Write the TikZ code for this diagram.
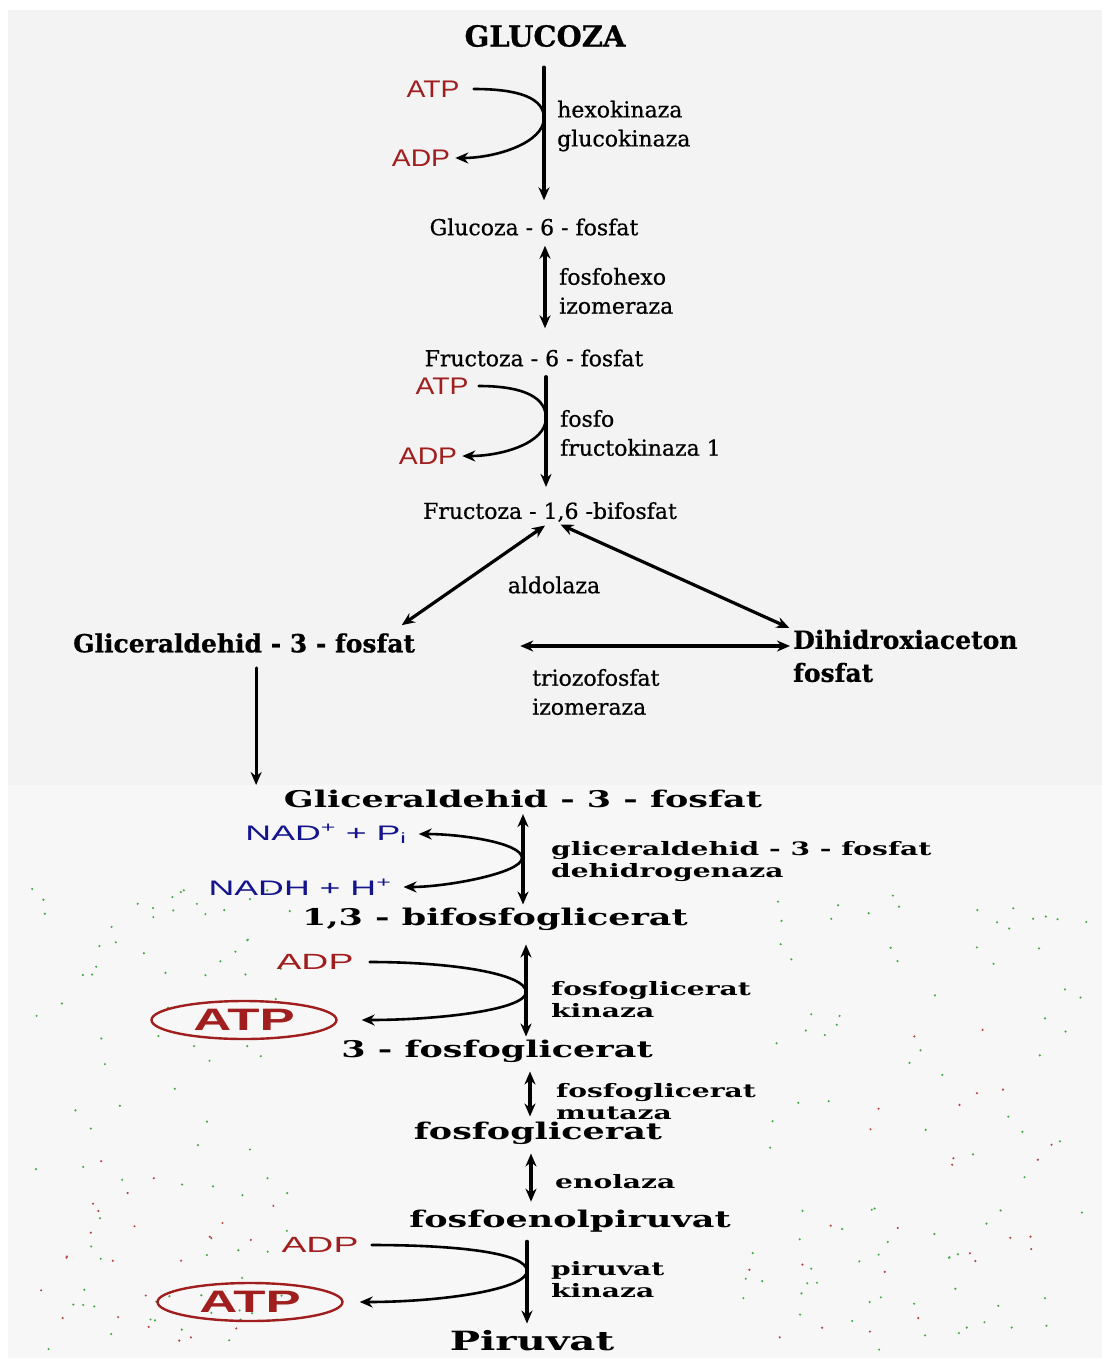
\documentclass[tikz,border=0pt]{standalone}
\usepackage{fontspec}
\usetikzlibrary{arrows.meta,shapes.geometric}
\newfontfamily\serf{DejaVu Serif}[FakeBold=0.7]
\newfontfamily\wserf{DejaVu Serif}[FakeStretch=1.52]
\newfontfamily\sanf{Liberation Sans}[FakeStretch=1.18]
\newfontfamily\wsanf{Liberation Sans}[FakeStretch=1.7]
\definecolor{topbg}{RGB}{243,243,243}
\definecolor{botbg}{RGB}{247,247,247}
\definecolor{atpred}{RGB}{160,30,30}
\definecolor{nadblue}{RGB}{20,20,140}
\definecolor{dotgreen}{RGB}{70,170,70}
\definecolor{dotred}{RGB}{180,70,70}
\begin{document}
\begin{tikzpicture}[x=1pt,y=-1pt,line join=round,line cap=round,>={Stealth[length=13pt,width=11pt]}]
	\tikzset{every node/.style={inner sep=0pt},
		molt/.style={font=\serf\fontsize{22}{29}\selectfont},
		molb/.style={font=\serf\bfseries\fontsize{25}{33}\selectfont,align=left},
		enzt/.style={font=\serf\fontsize{22}{29}\selectfont,align=left,anchor=west},
		cof/.style={text=atpred,font=\sanf\fontsize{24}{28}\selectfont},
		molw/.style={font=\wserf\bfseries\fontsize{23}{26}\selectfont},
		enzw/.style={font=\wserf\bfseries\fontsize{18.5}{22}\selectfont,align=left,anchor=west},
		cofw/.style={text=atpred,font=\wsanf\fontsize{22}{26}\selectfont},
		nadw/.style={text=nadblue,font=\wsanf\fontsize{21}{26}\selectfont},
		atpoval/.style={ellipse,draw=atpred,line width=2.4pt,minimum width=185pt,minimum height=38pt,
			text=atpred,font=\wsanf\bfseries\fontsize{31}{32}\selectfont},
		rxn/.style={line width=3.2pt},
		side/.style={line width=2.6pt}}
	\useasboundingbox (0,0) rectangle (1102,1358);
	% background
	\fill[white] (0,0) rectangle (1102,1358);
	\fill[topbg] (8,10) rectangle (1102,785);
	\fill[botbg] (8,785) rectangle (1102,1358);
	\pgfmathsetseed{17}
	\foreach \i in {1,...,85}{
		\pgfmathsetmacro\px{30+260*rnd}
		\pgfmathsetmacro\py{880+470*rnd}
		\pgfmathsetmacro\qx{740+350*rnd}
		\pgfmathsetmacro\qy{880+470*rnd}
		\fill[dotgreen] (\px,\py) circle (1.2);
		\fill[dotgreen] (\qx,\qy) circle (1.2);
	}
	\foreach \i in {1,...,25}{
		\pgfmathsetmacro\px{30+260*rnd}
		\pgfmathsetmacro\py{1150+200*rnd}
		\pgfmathsetmacro\qx{740+350*rnd}
		\pgfmathsetmacro\qy{1000+350*rnd}
		\fill[dotred] (\px,\py) circle (1.2);
		\fill[dotred] (\qx,\qy) circle (1.2);
	}
	% upper part
	\node[font=\serf\bfseries\fontsize{29}{30}\selectfont] (glc) at (545,36) {GLUCOZA};
	\node[cof] (atp1) at (433,89) {ATP};
	\node[cof] (adp1) at (421,158) {ADP};
	\node[enzt] (hk) at (557,126) {hexokinaza\\glucokinaza};
	\node[molt] (g6p) at (534,227) {Glucoza - 6 - fosfat};
	\node[enzt] (pgi) at (559,291) {fosfohexo\\izomeraza};
	\node[molt] (f6p) at (534,358) {Fructoza - 6 - fosfat};
	\node[cof] (atp2) at (442,386) {ATP};
	\node[cof] (adp2) at (428,456) {ADP};
	\node[enzt] (pfk) at (560,433) {fosfo\\fructokinaza 1};
	\node[molt] (fbp) at (550,512) {Fructoza - 1,6 -bifosfat};
	\node[molt] (ald) at (554,585) {aldolaza};
	\node[molb,anchor=west] (gap1) at (73,643) {Gliceraldehid - 3 - fosfat};
	\node[molb,anchor=west] (dhap) at (793,656) {Dihidroxiaceton\\fosfat};
	\node[enzt] (tpi) at (532,692) {triozofosfat\\izomeraza};
	\coordinate (k1) at (544,118);
	\coordinate (k2) at (546,418);
	\draw[rxn,->,shorten <=20pt,shorten >=18pt] (glc.south -| k1) -- (g6p.north -| k1);
	\draw[side,->,shorten <=14pt,shorten >=5pt] (atp1.east) .. controls +(45,0) and +(0,-25) .. (k1)
		.. controls +(0,25) and +(45,0) .. (adp1.east);
	\draw[rxn,<->,shorten <=10pt,shorten >=21pt] ([xshift=11pt]g6p.south) -- ([xshift=11pt]g6p.south |- f6p.north);
	\draw[rxn,->,shorten <=10pt,shorten >=15pt] (f6p.south -| k2) -- (fbp.north -| k2);
	\draw[side,->,shorten <=10pt,shorten >=5pt] (atp2.east) .. controls +(45,0) and +(0,-25) .. (k2)
		.. controls +(0,25) and +(45,0) .. (adp2.east);
	\draw[rxn,<->,shorten <=6pt,shorten >=14pt] (fbp.south) -- ([xshift=-25pt]gap1.north east);
	\draw[rxn,<->,shorten <=6pt,shorten >=4pt] ([xshift=5pt]fbp.south) -- (dhap.north west);
	\draw[rxn,<->,shorten <=105pt,shorten >=3pt] ([yshift=-3pt]gap1.east) -- ([yshift=-3pt]gap1.east -| dhap.west);
	\draw[rxn,->,shorten <=15pt,shorten >=5pt] ([xshift=12pt]gap1.south) -- ([xshift=12pt]gap1.south |- 0,790);
	% lower part
	\node[molw] (gap2) at (523,799) {Gliceraldehid - 3 - fosfat};
	\node[nadw] (nad) at (326,834) {NAD\textsuperscript{+} + P\textsubscript{i}};
	\node[nadw] (nadh) at (300,887) {NADH + H\textsuperscript{+}};
	\node[enzw] (gapdh) at (551,862) {gliceraldehid - 3 - fosfat\\dehidrogenaza};
	\node[molw] (bpg) at (495,919) {1,3 - bifosfoglicerat};
	\node[cofw] (adp3) at (315,962) {ADP};
	\node[atpoval] (atp3) at (244,1020) {ATP};
	\node[enzw] (pgk) at (551,1000) {fosfoglicerat\\kinaza};
	\node[molw] (pg3) at (497,1051) {3 - fosfoglicerat};
	\node[enzw] (pgm) at (556,1102) {fosfoglicerat\\mutaza};
	\node[molw] (pg2) at (538,1133) {fosfoglicerat};
	\node[enzw] (eno) at (555,1182) {enolaza};
	\node[molw] (pep) at (570,1221) {fosfoenolpiruvat};
	\node[cofw] (adp4) at (320,1245) {ADP};
	\node[atpoval] (atp4) at (250,1302) {ATP};
	\node[enzw] (pk) at (551,1280) {piruvat\\kinaza};
	\node[molw,font=\wserf\bfseries\fontsize{26.5}{28}\selectfont] (pyr) at (532,1341) {Piruvat};
	\coordinate (k3) at (522,858);
	\coordinate (k4) at (526,992);
	\coordinate (k5) at (527,1271);
	\draw[rxn,<->,shorten <=6pt,shorten >=3pt] (gap2.south) -- (gap2.south |- bpg.north);
	\draw[side,<->,shorten <=12pt,shorten >=12pt] (nad.east) .. controls +(55,0) and +(0,-15) .. (k3)
		.. controls +(0,15) and +(55,0) .. (nadh.east);
	\draw[rxn,<->,shorten <=14pt,shorten >=3pt] (bpg.south -| k4) -- (pg3.north -| k4);
	\draw[side,->,shorten <=16pt,shorten >=24pt] (adp3.east) .. controls +(100,0) and +(0,-18) .. (k4)
		.. controls +(0,18) and +(100,0) .. (atp3.east);
	\draw[rxn,<->,shorten <=9pt,shorten >=5pt] ([xshift=-8pt]pg2.north |- pg3.south) -- ([xshift=-8pt]pg2.north);
	\draw[rxn,<->,shorten <=9pt,shorten >=8pt] ([xshift=-7pt]pg2.south) -- ([xshift=-7pt]pg2.south |- pep.north);
	\draw[rxn,->,shorten <=9pt,shorten >=7pt] (pep.south -| k5) -- (pyr.north -| k5);
	\draw[side,->,shorten <=13pt,shorten >=16pt] (adp4.east) .. controls +(100,0) and +(0,-18) .. (k5)
		.. controls +(0,18) and +(100,0) .. (atp4.east);
\end{tikzpicture}
\end{document}
